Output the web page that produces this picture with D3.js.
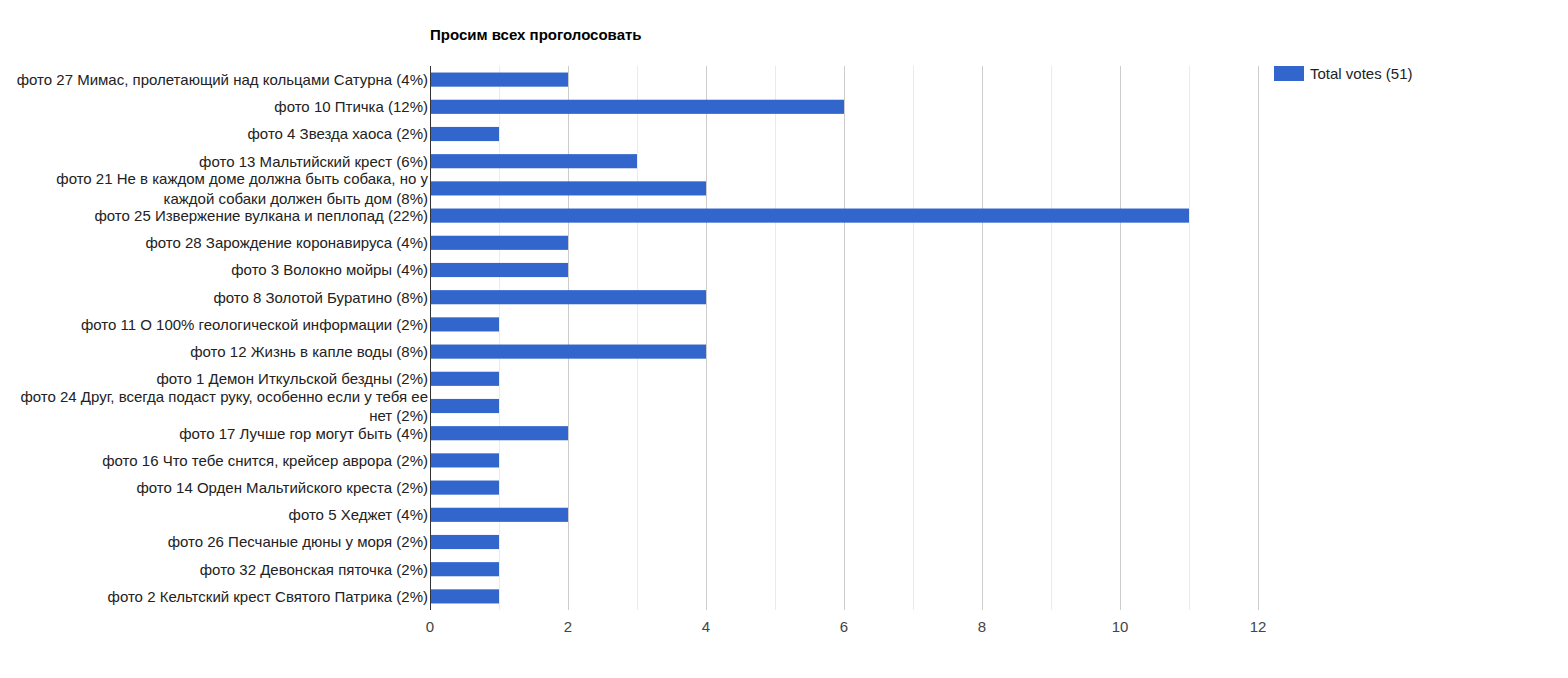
<!DOCTYPE html>
<html>
<head>
<meta charset="utf-8">
<script src="https://cdn.jsdelivr.net/npm/d3@7"></script>
<style>
  body { margin: 0; background: #fff; }
  text { font-family: "Liberation Sans", Arial, sans-serif; }
</style>
</head>
<body>
<div id="chart"></div>
<script>
// Data
const categories = [
    ['фото 27 Мимас, пролетающий над кольцами Сатурна (4%)'],
    ['фото 10 Птичка (12%)'],
    ['фото 4 Звезда хаоса (2%)'],
    ['фото 13 Мальтийский крест (6%)'],
    ['фото 21 Не в каждом доме должна быть собака, но у', 'каждой собаки должен быть дом (8%)'],
    ['фото 25 Извержение вулкана и пеплопад (22%)'],
    ['фото 28 Зарождение коронавируса (4%)'],
    ['фото 3 Волокно мойры (4%)'],
    ['фото 8 Золотой Буратино (8%)'],
    ['фото 11 О 100% геологической информации (2%)'],
    ['фото 12 Жизнь в капле воды (8%)'],
    ['фото 1 Демон Иткульской бездны (2%)'],
    ['фото 24 Друг, всегда подаст руку, особенно если у тебя ее', 'нет (2%)'],
    ['фото 17 Лучше гор могут быть (4%)'],
    ['фото 16 Что тебе снится, крейсер аврора (2%)'],
    ['фото 14 Орден Мальтийского креста (2%)'],
    ['фото 5 Хеджет (4%)'],
    ['фото 26 Песчаные дюны у моря (2%)'],
    ['фото 32 Девонская пяточка (2%)'],
    ['фото 2 Кельтский крест Святого Патрика (2%)']
];
const votes = [2, 6, 1, 3, 4, 11, 2, 2, 4, 1, 4, 1, 1, 2, 1, 1, 2, 1, 1, 1];
const xTicks = [0, 2, 4, 6, 8, 10, 12];
const minorTicks = [1, 3, 5, 7, 9, 11];
const chartTitle = 'Просим всех проголосовать';
const legendLabel = 'Total votes (51)';

const width = 1568, height = 678;
const plot = { left: 430, right: 1258, top: 66, bottom: 610 };

const svg = d3.select('#chart').append('svg')
    .attr('width', width)
    .attr('height', height);

const x = d3.scaleLinear().domain([0, 12]).range([plot.left, plot.right]);
const y = d3.scaleBand()
    .domain(d3.range(categories.length))
    .range([plot.top, plot.bottom])
    .paddingInner(0.48)
    .paddingOuter(0.24);

// Title
svg.append('text')
    .attr('x', plot.left)
    .attr('y', 40)
    .attr('font-size', 15)
    .attr('font-weight', 'bold')
    .attr('fill', '#000')
    .text(chartTitle);

// Gridlines
svg.append('g').selectAll('line')
    .data(minorTicks)
    .enter().append('line')
    .attr('x1', d => Math.round(x(d)) + 0.5)
    .attr('x2', d => Math.round(x(d)) + 0.5)
    .attr('y1', plot.top).attr('y2', plot.bottom)
    .attr('stroke', '#ebebeb');

svg.append('g').selectAll('line')
    .data(xTicks.slice(1))
    .enter().append('line')
    .attr('x1', d => Math.round(x(d)) + 0.5)
    .attr('x2', d => Math.round(x(d)) + 0.5)
    .attr('y1', plot.top).attr('y2', plot.bottom)
    .attr('stroke', '#cccccc');

// Bars
svg.append('g').selectAll('rect')
    .data(votes)
    .enter().append('rect')
    .attr('x', x(0))
    .attr('y', (d, i) => y(i))
    .attr('width', d => x(d) - x(0))
    .attr('height', y.bandwidth())
    .attr('fill', '#3366cc');

// Baseline
svg.append('line')
    .attr('x1', plot.left + 0.5).attr('x2', plot.left + 0.5)
    .attr('y1', plot.top).attr('y2', plot.bottom)
    .attr('stroke', '#333');

// Category labels
const labels = svg.append('g').selectAll('text')
    .data(categories)
    .enter().append('text')
    .attr('text-anchor', 'end')
    .attr('font-size', 15)
    .attr('fill', '#222');

labels.each(function(lines, i) {
    const cy = y(i) + y.bandwidth() / 2;
    const start = cy - (lines.length - 1) * 19.5 / 2;
    d3.select(this).selectAll('tspan')
        .data(lines)
        .enter().append('tspan')
        .attr('x', plot.left - 2)
        .attr('y', (d, j) => start + j * 19.5)
        .attr('dy', '0.36em')
        .text(d => d);
});

// X tick labels
svg.append('g').selectAll('text')
    .data(xTicks)
    .enter().append('text')
    .attr('x', d => x(d))
    .attr('y', 632)
    .attr('text-anchor', 'middle')
    .attr('font-size', 15)
    .attr('fill', '#444')
    .text(d => d);

// Legend
const legend = svg.append('g').attr('transform', 'translate(1274,66)');
legend.append('rect')
    .attr('width', 30).attr('height', 15)
    .attr('fill', '#3366cc');
legend.append('text')
    .attr('x', 36).attr('y', 7.5)
    .attr('dy', '0.36em')
    .attr('font-size', 15)
    .attr('fill', '#222')
    .text(legendLabel);
</script>
</body>
</html>
